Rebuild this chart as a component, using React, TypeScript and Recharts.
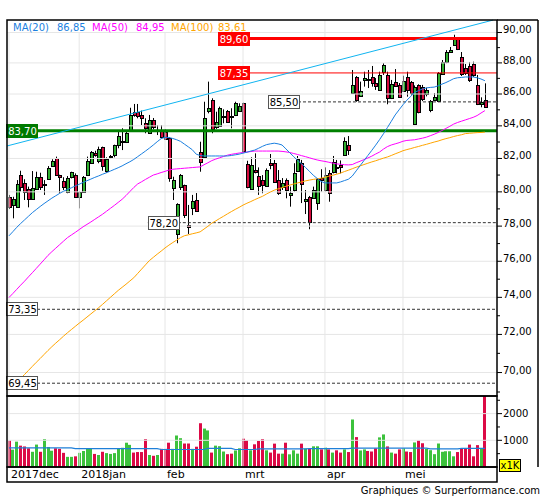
import React from 'react';
import { ComposedChart, Bar, Line, XAxis, YAxis, ReferenceLine, ReferenceDot } from 'recharts';

const FONT = '"DejaVu Sans", Verdana, sans-serif';

// ---------- data ----------
const monthTicks = [0, 18, 40, 60, 81, 101];
const monthLabels = ['2017dec', '2018jan', 'feb', 'mrt', 'apr', 'mei'];
const priceTicks = [69, 70, 71, 72, 73, 74, 75, 76, 77, 78, 79, 80, 81, 82, 83, 84, 85, 86, 87, 88, 89, 90];
const priceGrid = [70, 72, 74, 76, 78, 80, 82, 84, 86, 88, 90];
const volumeTicks = [500, 1000, 1500, 2000, 2500];
const volumeGrid = [1000, 2000];

const opens = [79.71, 79.21, 79.09, 81.02, 80.54, 80.17, 79.56, 80.15, 80.87, 80.41,
  80.74, 81.54, 82.01, 81.0, 80.66, 80.01, 80.87, 81.0, 79.68, 80.01,
  81.0, 81.71, 82.35, 81.86, 82.68, 81.26, 82.09, 82.21, 82.82, 82.99,
  82.99, 83.74, 84.88, 84.88, 84.68, 84.2, 83.58, 84.36, 83.68, 83.74,
  83.64, 83.23, 80.21, 77.55, 80.29, 80.41, 78.06, 79.03, 79.52, 82.41,
  82.11, 84.95, 85.62, 83.91, 83.99, 84.52, 84.95, 84.61, 84.68, 84.95,
  85.41, 81.66, 80.15, 81.3, 80.94, 80.7, 80.35, 81.71, 81.74, 80.7,
  80.31, 80.7, 79.82, 80.11, 81.26, 81.71, 79.49, 79.68, 79.62, 79.33,
  80.85, 80.11, 81.1, 81.2, 81.5, 81.62, 82.21, 82.82, 86.05, 87.11,
  85.87, 86.9, 86.96, 87.11, 86.68, 86.26, 87.43, 87.22, 85.73, 86.75,
  86.58, 86.19, 87.11, 86.75, 84.1, 86.55, 86.45, 86.0, 84.99, 85.62,
  85.56, 87.26, 88.04, 88.73, 89.17, 89.61, 88.41, 87.65, 87.82, 87.91,
  86.58, 85.38, 85.62];
const highs = [79.82, 79.71, 80.7, 81.26, 80.75, 80.31, 81.24, 81.2, 81.14, 80.7,
  81.54, 81.95, 82.11, 81.02, 80.87, 80.94, 81.2, 81.1, 80.05, 80.94,
  82.11, 82.45, 82.47, 82.72, 82.72, 82.07, 82.21, 82.84, 83.74, 83.85,
  83.74, 85.13, 85.37, 85.37, 84.95, 84.47, 84.68, 84.49, 84.05, 84.05,
  83.79, 83.29, 80.9, 79.33, 81.06, 80.43, 79.23, 79.82, 79.93, 83.02,
  85.51, 86.79, 85.73, 84.88, 85.2, 85.03, 84.99, 85.1, 85.51, 85.41,
  85.45, 81.86, 82.07, 82.31, 81.46, 81.0, 81.4, 82.27, 81.91, 81.3,
  80.82, 80.8, 80.31, 81.71, 82.15, 81.91, 80.11, 79.76, 80.31, 80.8,
  81.35, 81.46, 81.3, 82.15, 81.91, 81.88, 83.29, 83.37, 87.54, 87.15,
  86.79, 87.43, 87.54, 87.8, 87.02, 87.43, 87.98, 87.43, 86.9, 87.6,
  86.7, 87.17, 87.43, 86.83, 86.55, 86.62, 86.58, 86.4, 85.62, 86.06,
  87.41, 88.19, 88.84, 89.04, 89.85, 89.7, 88.71, 87.93, 88.06, 88.08,
  87.22, 85.79, 86.68];
const lows = [78.99, 78.45, 79.09, 80.01, 79.52, 79.09, 79.52, 80.11, 80.11, 79.82,
  80.74, 81.5, 80.98, 79.92, 80.11, 79.92, 80.8, 79.69, 79.03, 80.0,
  80.98, 81.69, 82.11, 81.71, 81.26, 81.14, 81.97, 82.07, 82.62, 82.51,
  82.94, 83.64, 84.57, 84.47, 84.05, 83.54, 83.52, 83.79, 83.43, 83.23,
  83.13, 80.6, 79.52, 77.02, 80.11, 78.47, 77.55, 78.64, 78.82, 81.2,
  82.09, 84.78, 83.54, 83.81, 83.95, 84.16, 84.21, 83.85, 84.61, 84.88,
  82.41, 80.21, 80.11, 81.1, 79.82, 79.92, 80.31, 81.35, 80.54, 79.82,
  80.11, 79.62, 79.13, 80.01, 81.2, 79.34, 78.7, 77.82, 79.58, 78.94,
  80.01, 80.01, 79.42, 81.1, 81.1, 81.1, 82.15, 82.21, 86.0, 85.51,
  85.83, 86.47, 86.38, 86.47, 86.26, 86.21, 87.22, 85.35, 85.68, 86.47,
  85.75, 86.15, 85.83, 85.94, 84.05, 84.78, 85.55, 85.85, 84.85, 85.56,
  85.49, 87.22, 87.98, 88.69, 89.11, 88.84, 87.15, 87.22, 86.77, 87.09,
  85.3, 85.16, 85.13];
const closes = [79.09, 79.56, 80.45, 80.31, 80.01, 79.56, 80.21, 80.87, 80.31, 80.45,
  81.44, 81.85, 81.0, 80.87, 80.31, 80.8, 81.16, 79.71, 79.97, 80.87,
  81.85, 82.37, 82.19, 82.58, 81.54, 81.95, 82.13, 82.82, 83.37, 83.08,
  83.58, 84.68, 84.68, 84.63, 84.47, 83.85, 84.36, 83.95, 83.77, 83.33,
  83.17, 80.8, 80.7, 79.29, 81.0, 78.64, 77.95, 79.48, 78.9, 81.8,
  84.47, 85.1, 83.79, 84.22, 85.1, 84.61, 84.26, 84.52, 85.45, 85.24,
  82.47, 80.31, 81.6, 81.21, 80.35, 80.41, 81.3, 81.6, 80.6, 79.95,
  80.51, 80.11, 79.92, 81.14, 81.95, 80.46, 79.55, 78.26, 80.11, 80.74,
  80.7, 81.0, 79.92, 81.8, 81.4, 81.5, 83.06, 82.51, 86.58, 85.62,
  86.21, 87.0, 86.91, 86.68, 86.51, 87.22, 87.86, 85.77, 86.62, 86.53,
  85.83, 86.83, 86.26, 86.05, 86.47, 84.86, 85.68, 86.25, 85.56, 85.83,
  87.33, 88.08, 88.73, 88.84, 89.61, 88.91, 87.26, 87.33, 86.9, 87.22,
  85.35, 85.47, 85.2];

const ma20 = [77.44, 77.68, 77.93, 78.15, 78.36, 78.57, 78.78, 78.96, 79.14, 79.31,
  79.47, 79.63, 79.77, 79.91, 80.04, 80.14, 80.24, 80.35, 80.45, 80.56,
  80.66, 80.76, 80.86, 80.95, 81.05, 81.14, 81.24, 81.34, 81.44, 81.55,
  81.68, 81.8, 81.94, 82.11, 82.28, 82.45, 82.63, 82.82, 83.02, 83.21,
  83.29, 83.28, 83.22, 83.14, 83.04, 82.87, 82.7, 82.53, 82.26, 82.18,
  82.15, 82.15, 82.15, 82.15, 82.15, 82.15, 82.15, 82.18, 82.22, 82.26,
  82.32, 82.38, 82.45, 82.51, 82.62, 82.74, 82.84, 82.89, 82.93, 82.89,
  82.82, 82.58, 82.34, 82.11, 81.87, 81.68, 81.46, 81.23, 80.99, 80.8,
  80.62, 80.53, 80.53, 80.53, 80.53, 80.59, 80.67, 80.75, 80.94, 81.25,
  81.56, 81.87, 82.18, 82.49, 82.81, 83.15, 83.51, 83.89, 84.28, 84.68,
  85.0, 85.32, 85.61, 85.85, 86.1, 86.22, 86.32, 86.39, 86.42, 86.44,
  86.52, 86.63, 86.73, 86.85, 86.98, 87.04, 87.06, 87.09, 87.09, 87.09,
  87.04, 86.96, 86.85];
const ma50 = [73.99, 74.21, 74.44, 74.67, 74.89, 75.13, 75.36, 75.6, 75.84, 76.08,
  76.33, 76.54, 76.74, 76.94, 77.14, 77.34, 77.49, 77.64, 77.8, 77.96,
  78.1, 78.24, 78.39, 78.54, 78.69, 78.86, 79.03, 79.2, 79.38, 79.56,
  79.78, 80.02, 80.26, 80.47, 80.6, 80.74, 80.87, 81.0, 81.07, 81.15,
  81.22, 81.3, 81.35, 81.37, 81.39, 81.41, 81.43, 81.45, 81.47, 81.49,
  81.62, 81.74, 81.87, 81.96, 82.04, 82.12, 82.2, 82.25, 82.29, 82.33,
  82.36, 82.39, 82.42, 82.45, 82.45, 82.45, 82.45, 82.45, 82.45, 82.45,
  82.43, 82.4, 82.36, 82.3, 82.24, 82.17, 82.11, 82.04, 81.97, 81.91,
  81.86, 81.82, 81.77, 81.72, 81.67, 81.65, 81.62, 81.61, 81.63, 81.74,
  81.83, 81.93, 82.03, 82.14, 82.27, 82.39, 82.57, 82.72, 82.82, 82.89,
  82.96, 83.05, 83.1, 83.12, 83.14, 83.19, 83.24, 83.3, 83.39, 83.48,
  83.59, 83.71, 83.84, 83.97, 84.11, 84.21, 84.29, 84.37, 84.45, 84.53,
  84.64, 84.8, 84.95];
const ma100 = [69.1, 69.3, 69.5, 69.7, 69.9, 70.11, 70.32, 70.53, 70.73, 70.94,
  71.15, 71.35, 71.54, 71.72, 71.91, 72.09, 72.26, 72.43, 72.6, 72.76,
  72.93, 73.1, 73.27, 73.44, 73.62, 73.81, 74.0, 74.19, 74.38, 74.55,
  74.72, 74.9, 75.08, 75.32, 75.56, 75.8, 76.04, 76.22, 76.4, 76.57,
  76.75, 76.91, 77.06, 77.2, 77.34, 77.45, 77.5, 77.56, 77.61, 77.67,
  77.83, 77.99, 78.17, 78.3, 78.44, 78.57, 78.71, 78.84, 78.97, 79.09,
  79.22, 79.33, 79.43, 79.54, 79.64, 79.74, 79.87, 79.99, 80.1, 80.18,
  80.25, 80.33, 80.4, 80.47, 80.53, 80.59, 80.65, 80.7, 80.74, 80.78,
  80.81, 80.86, 80.93, 80.99, 81.05, 81.12, 81.21, 81.29, 81.38, 81.47,
  81.55, 81.63, 81.71, 81.79, 81.86, 81.94, 82.02, 82.09, 82.18, 82.28,
  82.37, 82.47, 82.54, 82.6, 82.67, 82.73, 82.8, 82.86, 82.93, 83.0,
  83.06, 83.14, 83.21, 83.27, 83.34, 83.4, 83.45, 83.52, 83.54, 83.56,
  83.58, 83.59, 83.61];

const volumes = [1000, 650, 950, 800, 770, 700, 570, 840, 570, 1040,
  750, 610, 700, 680, 530, 380, 380, 400, 530, 600,
  700, 700, 490, 450, 570, 520, 490, 520, 700, 720,
  910, 830, 540, 560, 560, 1040, 450, 420, 450, 680,
  680, 910, 680, 1180, 1080, 880, 880, 680, 760, 1640,
  1440, 1370, 540, 800, 780, 580, 480, 500, 620, 700,
  1060, 1000, 625, 850, 975, 1040, 625, 540, 875, 500,
  500, 910, 475, 625, 500, 875, 690, 690, 775, 775,
  660, 725, 660, 540, 625, 540, 660, 560, 1780, 1120,
  620, 660, 600, 580, 700, 1110, 1220, 770, 540, 500,
  660, 700, 580, 560, 920, 1000, 890, 680, 630, 480,
  880, 570, 590, 590, 400, 560, 700, 700, 840, 400,
  820, 700, 2700];
const volumeAvg = [715, 715, 715, 715, 715, 715, 715, 715, 715, 715,
  715, 715, 715, 715, 715, 715, 715, 690, 690, 690,
  690, 690, 690, 690, 690, 690, 690, 690, 690, 690,
  690, 690, 690, 690, 690, 690, 690, 690, 690, 655,
  655, 655, 655, 655, 655, 655, 655, 655, 655, 655,
  655, 700, 700, 700, 700, 700, 700, 700, 655, 655,
  655, 655, 655, 655, 680, 680, 680, 680, 680, 680,
  680, 680, 680, 680, 680, 680, 680, 690, 690, 690,
  690, 690, 690, 690, 690, 690, 690, 690, 710, 710,
  710, 710, 710, 710, 710, 710, 710, 710, 710, 710,
  710, 710, 710, 710, 710, 710, 710, 710, 680, 680,
  680, 680, 680, 680, 680, 680, 700, 700, 700, 700,
  700, 700, 700];

// horizontal levels drawn on the price panel
const levelValues = [89.6, 87.35, 85.5, 83.7, 78.2, 73.35, 69.45];
const levelKinds = ['redBold', 'red', 'dash', 'green', 'dash', 'dash', 'dash'];
const levelFrom = [53.6, 53.6, 66.4, -0.5, 35.6, -0.5, -0.5];
const levelLabelAt = [57.7, 57.7, 70.5, 3.46, 39.7, 3.46, 3.46];

// trend line (two anchor points)
const trendIdx = [-0.5, 124.1];
const trendVal = [82.76, 90.83];

// ---------- layout / style ----------
const X_DOMAIN: [number, number] = [-0.5, 125.1];
const PRICE_DOMAIN: [number, number] = [68.797, 90.835];
const VOLUME_DOMAIN: [number, number] = [0, 2660];

const UP = '#30B030';
const DOWN = '#D40A3D';
const VOL_UP = '#3CC23C';
const VOL_DOWN = '#DC0A46';
const C20 = '#1A7FE0';
const C50 = '#FF00FF';
const C100 = '#FFA500';
const TREND = '#10B4F0';
const GRID = '#E6E6E6';

const KIND: Record<string, any> = {
  redBold: { stroke: '#FF0000', w: 3, dash: undefined, fill: '#FF0000', border: '#FF0000', text: '#FFFFFF' },
  red: { stroke: '#FF0000', w: 1, dash: undefined, fill: '#FF0000', border: '#FF0000', text: '#FFFFFF' },
  green: { stroke: '#008000', w: 3, dash: undefined, fill: '#007A00', border: '#007A00', text: '#FFFFFF' },
  dash: { stroke: '#333333', w: 1, dash: '3 2', fill: '#FFFFFF', border: '#555555', text: '#000000' },
};

const fmt = (v: number) => v.toFixed(2).replace('.', ',');

const data = opens.map((open, i) => ({
  i,
  open,
  high: highs[i],
  low: lows[i],
  close: closes[i],
  ma20: ma20[i],
  ma50: ma50[i],
  ma100: ma100[i],
  vol: volumes[i],
  volAvg: volumeAvg[i],
}));

function Candle(props: any) {
  const { x, y, width, height, payload } = props;
  if (x == null || y == null || !payload) return null;
  const top = Math.min(y, y + height);
  const h = Math.abs(height);
  const lh = Math.log(payload.high);
  const ll = Math.log(payload.low);
  const span = lh - ll;
  const yOf = (v: number) => (span > 0 ? top + (h * (lh - Math.log(v))) / span : top);
  const cx = Math.round(x + width / 2) + 0.5;
  const yo = yOf(payload.open);
  const yc = yOf(payload.close);
  const up = payload.close >= payload.open;
  const bt = Math.round(Math.min(yo, yc)) + 0.5;
  const bb = Math.round(Math.max(yo, yc)) + 0.5;
  return (
    <g>
      <line x1={cx} x2={cx} y1={top} y2={top + h} stroke="#000" strokeWidth={1} />
      <rect x={cx - 1} y={bt} width={3} height={Math.max(bb - bt, 1)} fill={up ? UP : DOWN} stroke="#000" strokeWidth={1} />
    </g>
  );
}

function VolumeBar(props: any) {
  const { x, y, width, height, payload } = props;
  if (x == null || y == null || !payload) return null;
  const n = Math.round(x + width / 2);
  const up = payload.close >= payload.open;
  return <rect x={n - 1} y={y} width={3} height={Math.max(height, 0)} fill={up ? VOL_UP : VOL_DOWN} />;
}

function PriceTick(props: any) {
  const { x, y, payload } = props;
  const v = payload.value;
  const major = Math.round(v) % 2 === 0;
  return (
    <g>
      <line x1={x} x2={x + (major ? 5 : 3)} y1={y} y2={y} stroke="#000" strokeWidth={1} />
      {major && (
        <text x={x + 6} y={y + 1} fontSize={10} fontFamily={FONT} fill="#000" textAnchor="start">
          {fmt(v)}
        </text>
      )}
    </g>
  );
}

function VolumeTick(props: any) {
  const { x, y, payload } = props;
  const v = payload.value;
  const major = v % 1000 === 0;
  return (
    <g>
      <line x1={x} x2={x + (major ? 5 : 3)} y1={y} y2={y} stroke="#000" strokeWidth={1} />
      {major && (
        <text x={x + 6} y={y + 3.5} fontSize={10} fontFamily={FONT} fill="#000" textAnchor="start">
          {String(v)}
        </text>
      )}
    </g>
  );
}

function DateTick(props: any) {
  const { x, y, payload } = props;
  const k = monthTicks.indexOf(payload.value);
  return (
    <text x={x + 2} y={y + 11.3} fontSize={11} fontFamily={FONT} fill="#000" textAnchor="start">
      {k >= 0 ? monthLabels[k] : ''}
    </text>
  );
}

function makeLevelBox(k: number) {
  return (p: any) => {
    const st = KIND[levelKinds[k]];
    const cx = p.cx;
    const cy = Math.round(p.cy) + 0.5;
    return (
      <g>
        <rect x={Math.round(cx - 16) + 0.5} y={cy - 7} width={31} height={13} fill={st.fill} stroke={st.border} strokeWidth={1} />
        <text x={cx} y={cy + 3.5} fontSize={10} fontFamily={FONT} fill={st.text} textAnchor="middle">
          {fmt(levelValues[k])}
        </text>
      </g>
    );
  };
}

export default function App() {
  const last = data.length - 1;
  return (
    <div style={{ position: 'absolute', left: 0, top: 0, width: 545, height: 500, background: '#fff', fontFamily: FONT, overflow: 'hidden' }}>
      <div style={{ position: 'absolute', left: 0, top: 0 }}>
        <ComposedChart width={545} height={396} data={data} margin={{ top: 20, right: 0, bottom: 0, left: 7 }}>
          <XAxis dataKey="i" type="number" domain={X_DOMAIN} allowDataOverflow hide ticks={monthTicks} />
          <YAxis
            orientation="right"
            width={48}
            type="number"
            scale="log"
            domain={PRICE_DOMAIN}
            allowDataOverflow
            ticks={priceTicks}
            interval={0}
            tick={<PriceTick />}
            tickSize={0}
            tickMargin={0}
            axisLine={false}
            tickLine={false}
          />
          {priceGrid.map((v) => (
            <ReferenceLine key={'hg' + v} y={v} stroke={GRID} strokeWidth={1} ifOverflow="visible" />
          ))}
          {monthTicks.map((t) => (
            <ReferenceLine key={'vg' + t} x={t} stroke={GRID} strokeWidth={1} ifOverflow="visible" />
          ))}
          {levelValues.map((v, k) => {
            const st = KIND[levelKinds[k]];
            return (
              <ReferenceLine
                key={'lv' + k}
                segment={[{ x: levelFrom[k], y: v }, { x: X_DOMAIN[1], y: v }]}
                stroke={st.stroke}
                strokeWidth={st.w}
                strokeDasharray={st.dash}
                ifOverflow="visible"
              />
            );
          })}
          <ReferenceLine
            segment={[{ x: trendIdx[0], y: trendVal[0] }, { x: trendIdx[1], y: trendVal[1] }]}
            stroke={TREND}
            strokeWidth={1}
            ifOverflow="visible"
          />
          <Line dataKey="ma100" stroke={C100} strokeWidth={1} dot={false} isAnimationActive={false} type="linear" />
          <Line dataKey="ma50" stroke={C50} strokeWidth={1} dot={false} isAnimationActive={false} type="linear" />
          <Line dataKey="ma20" stroke={C20} strokeWidth={1} dot={false} isAnimationActive={false} type="linear" />
          <Bar dataKey={(d: any) => [d.low, d.high]} barSize={4} shape={Candle} isAnimationActive={false} />
          {levelValues.map((v, k) => (
            <ReferenceDot key={'lb' + k} x={levelLabelAt[k]} y={v} r={1} ifOverflow="visible" shape={makeLevelBox(k)} />
          ))}
        </ComposedChart>
      </div>

      <div style={{ position: 'absolute', left: 0, top: 396 }}>
        <ComposedChart width={545} height={86} data={data} margin={{ top: 0, right: 0, bottom: 0, left: 7 }}>
          <XAxis
            dataKey="i"
            type="number"
            domain={X_DOMAIN}
            allowDataOverflow
            ticks={monthTicks}
            interval={0}
            tick={<DateTick />}
            height={15}
            tickSize={0}
            tickMargin={0}
            axisLine={false}
            tickLine={false}
          />
          <YAxis
            orientation="right"
            width={48}
            type="number"
            domain={VOLUME_DOMAIN}
            allowDataOverflow
            ticks={volumeTicks}
            interval={0}
            tick={<VolumeTick />}
            tickSize={0}
            tickMargin={0}
            axisLine={false}
            tickLine={false}
          />
          {volumeGrid.map((v) => (
            <ReferenceLine key={'vhg' + v} y={v} stroke={GRID} strokeWidth={1} ifOverflow="visible" />
          ))}
          {monthTicks.map((t) => (
            <ReferenceLine key={'vvg' + t} x={t} stroke={GRID} strokeWidth={1} ifOverflow="visible" />
          ))}
          <Bar dataKey="vol" barSize={3} shape={VolumeBar} isAnimationActive={false} />
          <Line dataKey="volAvg" stroke="#1F7FD8" strokeWidth={1.2} dot={false} isAnimationActive={false} type="linear" />
        </ComposedChart>
      </div>

      <svg width={545} height={500} style={{ position: 'absolute', left: 0, top: 0, pointerEvents: 'none' }}>
        <rect x={8} y={21} width={242} height={11} fill="#fff" />
        <g fontSize={10} fontFamily={FONT}>
          <text x={13} y={31} fill={C20}>MA(20)</text>
          <text x={57} y={31} fill={C20}>{fmt(ma20[last])}</text>
          <text x={92} y={31} fill={C50}>MA(50)</text>
          <text x={136} y={31} fill={C50}>{fmt(ma50[last])}</text>
          <text x={171} y={31} fill={C100}>MA(100)</text>
          <text x={218} y={31} fill={C100}>{fmt(ma100[last])}</text>
        </g>
        <g fill="none" stroke="#000" strokeWidth={1.5}>
          <rect x={7} y={20} width={490} height={376} />
          <rect x={7} y={396} width={490} height={71} />
          <rect x={7} y={467} width={490} height={15} />
          <line x1={497} y1={20} x2={538} y2={20} />
          <line x1={538} y1={20} x2={538} y2={467} />
        </g>
        <rect x={499.5} y={459.5} width={21} height={12} fill="#FFFF00" stroke="#000" strokeWidth={1} />
        <text x={510} y={469} fontSize={10} fontFamily={FONT} textAnchor="middle" fill="#000">x1K</text>
        <text x={540} y={494} fontSize={10} fontFamily={FONT} textAnchor="end" fill="#000">Graphiques © Surperformance.com</text>
      </svg>
    </div>
  );
}
